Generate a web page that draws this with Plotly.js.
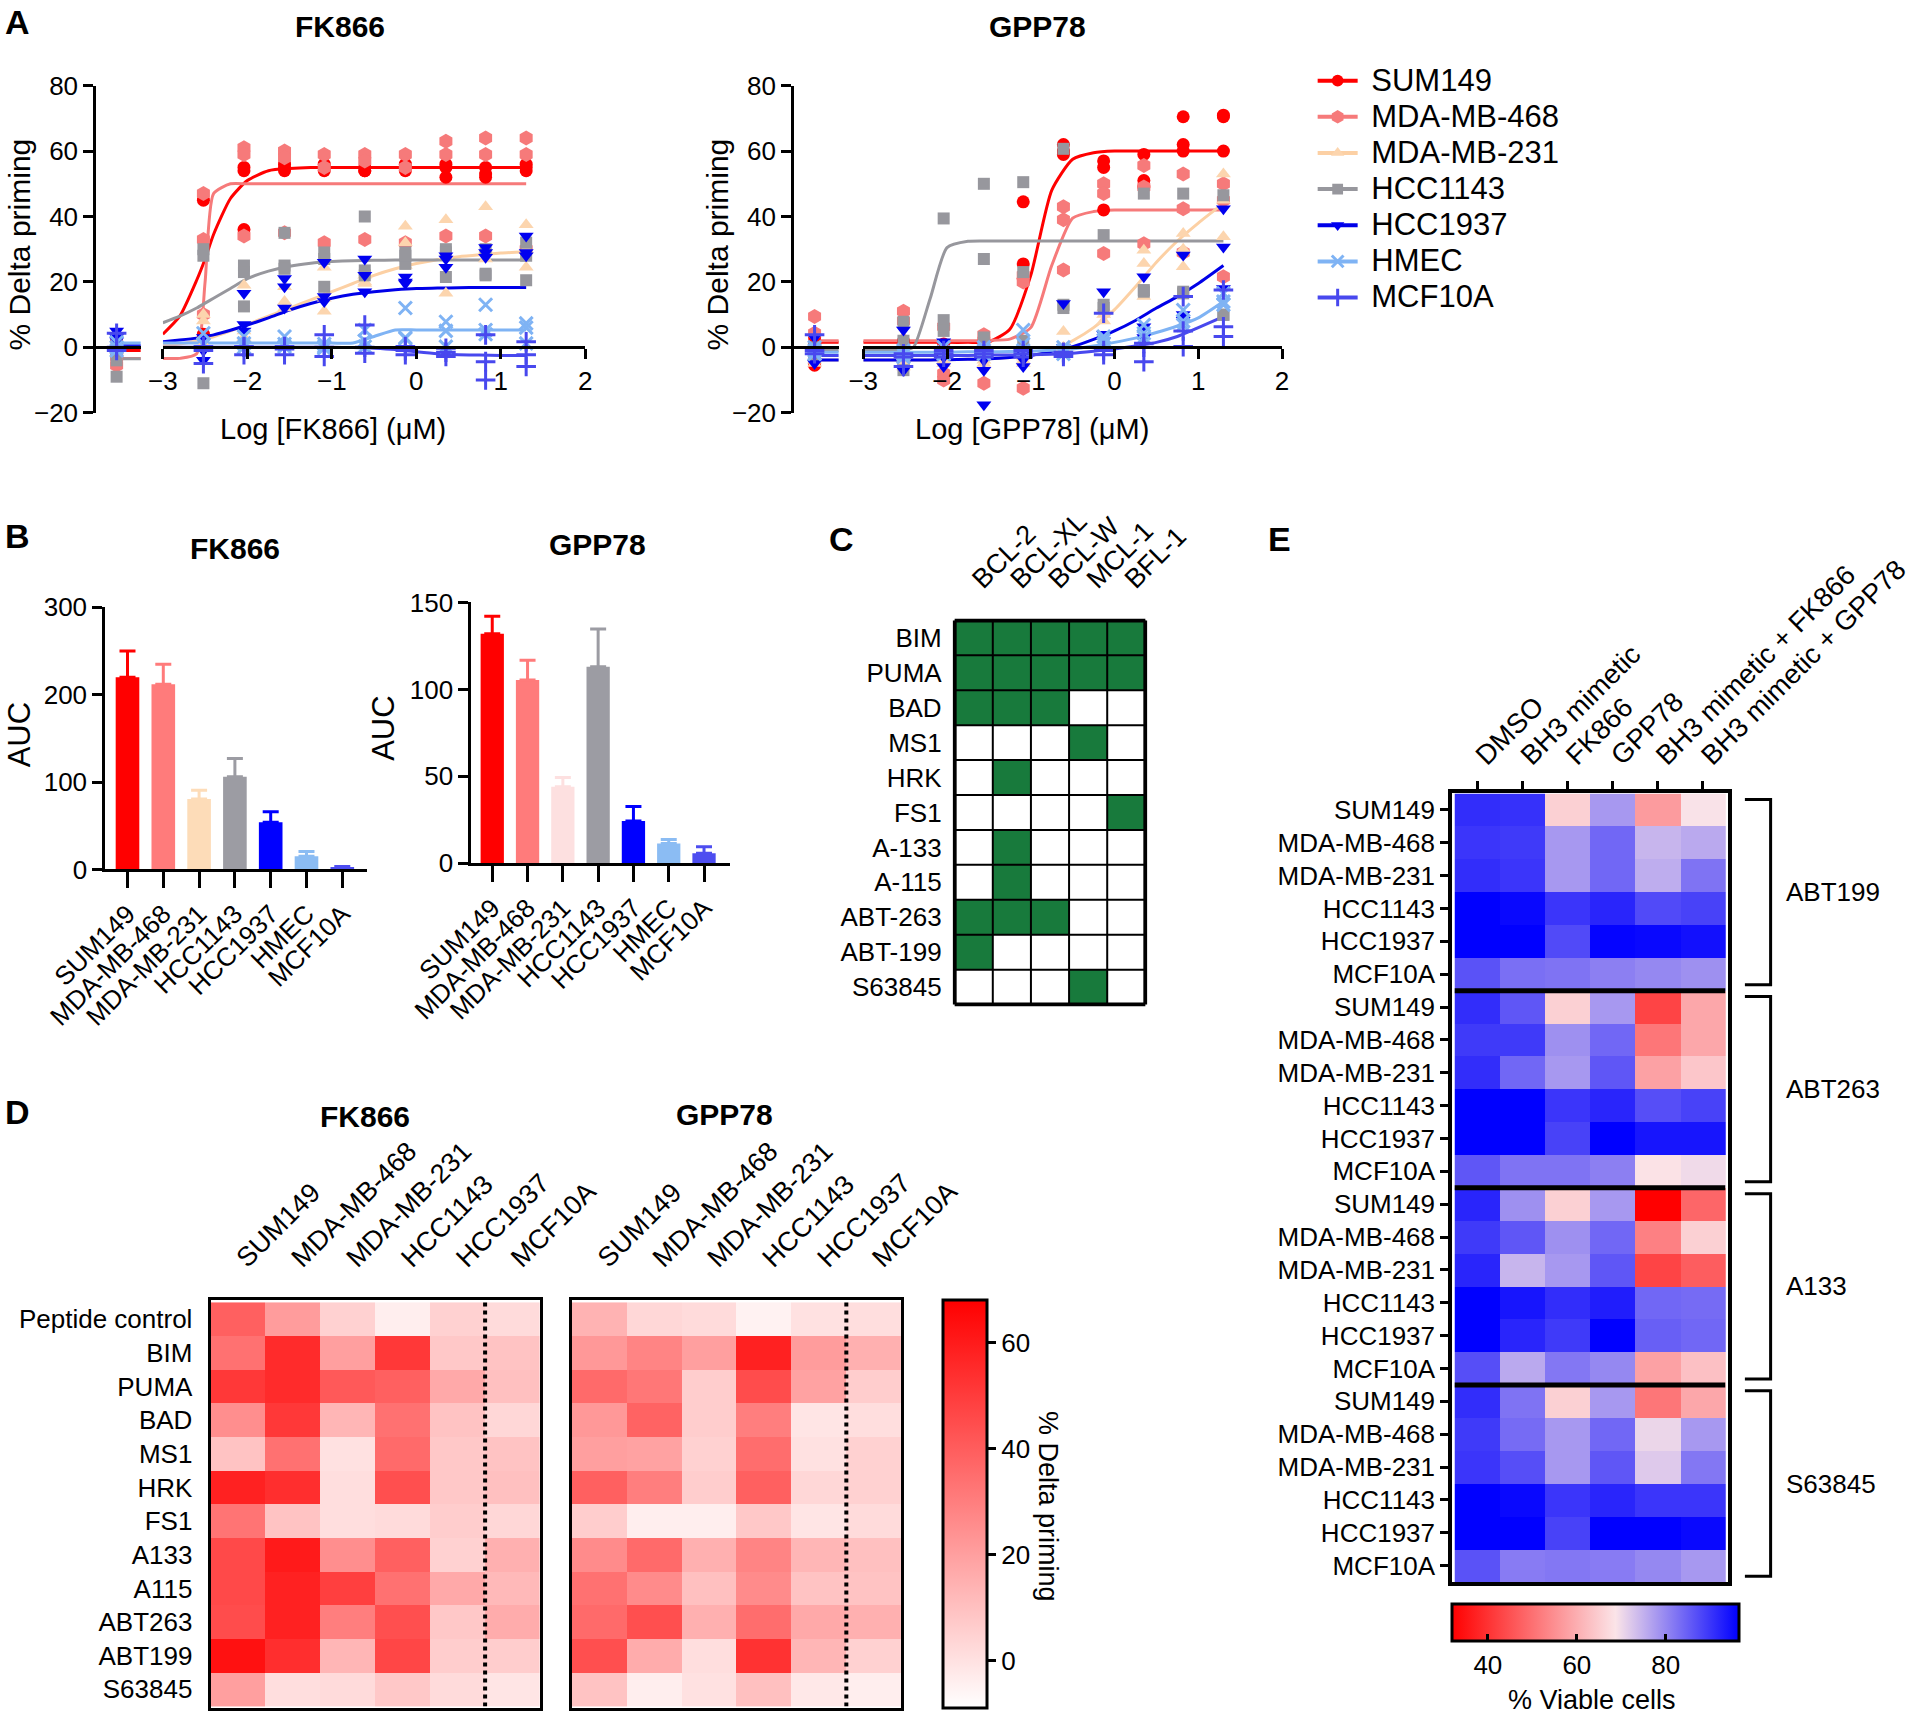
<!DOCTYPE html>
<html><head><meta charset="utf-8">
<script src="https://cdn.plot.ly/plotly-3.0.1.min.js"></script>
<style>html,body{margin:0;padding:0;background:#fff}#chart{width:1920px;height:1718px}</style>
</head><body><div id="chart"></div>
<script>
// ---------------- DATA ----------------
const cellLines = ['SUM149','MDA-MB-468','MDA-MB-231','HCC1143','HCC1937','HMEC','MCF10A'];
const logDose = [-2.52,-2.04,-1.56,-1.09,-0.61,-0.13,0.35,0.82,1.30];
const curveGrid = [-3,-2.8,-2.6,-2.5,-2.4,-2.2,-2,-1.75,-1.5,-1.25,-1,-0.75,-0.5,-0.25,0,0.25,0.5,0.75,1,1.3];

// FK866 % delta priming replicates (first row = vehicle, then one row per logDose)
const fk_SUM149 = [[2,-1,0],[45,4,3],[36,54,55],[55,54,56],[55,54,56],[54,54,55],[55,54,56],[56,52,55],[52,53,55],[56,54,55]];
const fk_MDA468 = [[-5.5,-2,-3],[47,33,10],[61,59,34],[60,58,35],[59,55,32],[59,57,33],[59,55,32],[63,59,34],[64,59,34],[64,59,30]];
const fk_MDA231 = [[0,1,-1],[8,10,1],[19,3,5],[18.5,12,14],[11,24.5,15],[19.5,22,20],[37,32,25],[39,16.5,28],[43,27,30],[37.5,24.5,30]];
const fk_HCC1143 = [[-9,-4,-1],[30,28,-11],[25,12.5,23],[35,25,24],[29,18.5,27],[40,23.5,22],[29,25.5,28],[30,21.5,29],[22.5,22,30],[32,20.5,28]];
const fk_HCC1937 = [[5,2,3],[-1,-4,3],[16.5,7,5],[21,18.5,12],[26,15.5,14],[27,22,17],[21.5,19.5,20],[28,24.5,27],[30.5,27.5,29],[34,28,29]];
const fk_HMEC = [[0,1.5,-1],[4.3,0.7,1],[1.2,3.3,0],[3.3,0.2,1],[0.2,-0.3,1],[5.3,0.2,2],[12,2.7,3],[7.8,0.2,5],[13,5.3,4],[7.3,1.2,6]];
const fk_MCF10A = [[4.3,-1,0],[0.2,-5,-1],[0.2,-2.3,0],[0.2,-2.3,-0.5],[3.8,-2.8,0],[6.8,-1.8,0],[0.2,-2.3,-1],[-0.3,-2.8,-1.5],[3.8,-4.4,-10],[1.7,-2.3,-5.9]];

// FK866 fitted curves read at curveGrid
const fkFit_SUM149 = [4,9.5,20.5,27,34.5,45.5,51,54,54.7,55,55,55,55,55,55,55,55,55,55,55];
const fkFit_MDA468 = [-3.4,-3.4,-2,20,47,50,50,50,50,50,50,50,50,50,50,50,50,50,50,50];
const fkFit_MDA231 = [0.5,1,2,2.5,3.2,5,7,9.5,12,14.5,17,19.5,22,24,25.6,26.8,27.7,28.3,28.8,29.2];
const fkFit_HCC1143 = [7.5,9.5,12,13.5,15,18,21,23.3,24.8,25.7,26.2,26.5,26.6,26.7,26.7,26.7,26.7,26.7,26.7,26.7];
const fkFit_HCC1937 = [1.7,2.2,2.8,3.3,3.8,5.2,6.8,9,11.4,13.4,15,16.2,17,17.6,18,18.1,18.2,18.3,18.3,18.3];
const fkFit_HMEC = [1.3,1.3,1.3,1.3,1.3,1.3,1.3,1.3,1.3,1.3,1.3,1.3,3.3,5.3,5.3,5.3,5.3,5.3,5.3,5.3];
const fkFit_MCF10A = [0,0,0,0,0,0,0,0,0,0,0,-0.1,-0.3,-0.7,-1.4,-2,-2.3,-2.4,-2.5,-2.5];
const fkVehicleFit = [-1,-3.4,0,-3.5,0.5,1.3,0];

// GPP78 % delta priming replicates
const gpp_SUM149 = [[-5.5,1,3],[1,-2,2],[-2,0,1],[-1,2,0],[44.5,25.5,21],[62,59,60],[57,55,42],[59,51,49],[70.5,62,60],[71,70.5,60]];
const gpp_MDA468 = [[9.4,4.3,-3],[11,8,-5],[6.3,-10,-8],[3.8,-11,2],[20,-12.5,22],[43,39,23.6],[50,47,28.7],[55.6,31.7,49],[53,42.4,29],[50,21.6,45]];
const gpp_MDA231 = [[-4,-3,-5],[-5,-6,-3],[-4,-3,-5],[-5,-4,-3],[-3,-4,-5],[4.8,-2,0],[10,12,8],[29.7,25.6,15.5],[34.8,24.6,30],[53,33.8,45]];
const gpp_HCC1143 = [[-3,-1,0],[7.8,-7,2],[39.4,8.3,5],[50,27,3],[50.5,23,2],[60.7,12,13],[34.3,13,12],[47,17.5,17],[47,16.5,17],[46.5,9.9,10]];
const gpp_HCC1937 = [[3,-5,-2],[5.3,-7,-3],[1.7,-5.9,-3],[-7,-17.6,-4],[-5.9,-3.8,-2],[13.4,-0.8,0],[17,4,2],[21.6,6.3,3],[28.2,8.3,10],[42.4,30.7,18]];
const gpp_HMEC = [[-1,-2,0],[-1,-2,-3],[-1.5,-2,0],[-1,0,-2],[5.3,1,-1],[-1,0,-2],[3.3,2.2,1],[6.8,4.3,3],[11.4,6.8,8],[16.5,13,14]];
const gpp_MCF10A = [[3.8,-1,-2],[-5.9,-2,-3],[-2,-3,-1],[-2,-3,-1],[-2,-1,-3],[-2.8,-1.5,-2],[10.4,-2.3,-1],[-4.4,1.2,0],[15.5,0.2,5],[17.5,6.3,3.3]];

const gppFit_SUM149 = [1.5,1.5,1.5,1.5,1.5,1.5,1.5,1.5,1.7,5.5,22,48,57.5,59.5,60,60,60,60,60,60];
const gppFit_MDA468 = [2,2,2,2,2,2,2,2,2.1,2.5,6,25,39.5,41.5,42,42,42,42,42,42];
const gppFit_MDA231 = [-3.9,-3.9,-3.9,-3.9,-3.9,-3.9,-3.8,-3.7,-3.5,-3.1,-2.5,-1,2,6,11.5,18.5,26,32.5,38,44];
const gppFit_HCC1143 = [-1,-1,-1,-0.8,0,15,30.5,32.4,32.5,32.5,32.5,32.5,32.5,32.5,32.5,32.5,32.5,32.5,32.5,32.5];
const gppFit_HCC1937 = [-3.9,-3.9,-3.9,-3.9,-3.9,-3.9,-3.8,-3.7,-3.5,-3.1,-2.5,-1.2,0.2,2.4,5,8.2,12,15.5,19.5,25];
const gppFit_HMEC = [-1.5,-1.5,-1.5,-1.5,-1.5,-1.5,-1.5,-1.4,-1.4,-1.3,-1.2,-0.9,-0.5,0.4,1.5,2.8,4.5,6.5,9,14];
const gppFit_MCF10A = [-2.5,-2.5,-2.5,-2.5,-2.5,-2.5,-2.5,-2.5,-2.4,-2.4,-2.3,-2.1,-1.8,-1.2,-0.5,0.4,1.5,3.3,6,9.4];
const gppVehicleFit = [1.5,2,-3.9,-1,-3.9,-1.5,-2.5];

// Panel B: AUC
const aucFK866 = [220,212,80.5,106,54,15,2.7];
const aucFK866Err = [30,23,10,21,12,5.5,0.5];
const aucGPP78 = [132,105.4,44,113,24.3,11.4,5.7];
const aucGPP78Err = [10,11.4,5.4,21.8,8.4,2.3,3.8];

// Panel C: binding profile
const bcl2Family = ['BCL-2','BCL-XL','BCL-W','MCL-1','BFL-1'];
const bh3Agents = ['BIM','PUMA','BAD','MS1','HRK','FS1','A-133','A-115','ABT-263','ABT-199','S63845'];
const bindingMatrix = [[1,1,1,1,1],[1,1,1,1,1],[1,1,1,0,0],[0,0,0,1,0],[0,1,0,0,0],[0,0,0,0,1],[0,1,0,0,0],[0,1,0,0,0],[1,1,1,0,0],[1,0,0,0,0],[0,0,0,1,0]];

// Panel D: % delta priming heatmaps
const dLines = ['SUM149','MDA-MB-468','MDA-MB-231','HCC1143','HCC1937','MCF10A'];
const dPeptides = ['Peptide control','BIM','PUMA','BAD','MS1','HRK','FS1','A133','A115','ABT263','ABT199','S63845'];
const dFK866 = [[39,21,5,-4,5,2],[34,55,20,51,7.5,9],[51,55,41,39,17,10],[25,51,13,34,9,3],[9,34,0,36,7.5,9],[58,54,1,44,7.5,10],[33,9,1,2,6,3],[46,60,25,39,5,15],[46,58,49,34,17,12],[45,58,30,44,7.5,16],[63,54,13,47,6,6],[20,1,2,7.5,2,-1]];
const dGPP78 = [[14,3,2,-5,0,1],[22,28,20,58,21,15],[36,32,6,45,19,6],[22,38,6,30,-1,1],[20,19,5,35,0,5],[39,30,6,39,3,5],[6,-4,-4,7.5,-1,2],[26,36,15,28,13,10],[34,26,10,26,9,9],[36,44,15,35,17,15],[44,16,1,53,13,5],[9,-4,0,10,-2,-4]];

// Panel E: % viable cells
const eTreatments = ['DMSO','BH3 mimetic','FK866','GPP78','BH3 mimetic + FK866','BH3 mimetic + GPP78'];
const eLines = ['SUM149','MDA-MB-468','MDA-MB-231','HCC1143','HCC1937','MCF10A'];
const eGroups = ['ABT199','ABT263','A133','S63845'];
const eABT199 = [[91,90.5,65.5,78,57,69],[90,89.5,78,84,74.5,76],[91,90,78,84,75.5,82.5],[96.5,95.5,90,92,87.5,88.5],[96.5,96.5,87.5,96,95.5,94.5],[86.5,83,82.5,81,80,79]];
const eABT263 = [[91,86,65.5,78,43,59],[89.5,89.5,79,84,51,59],[91,84,78,86,58,64],[96.5,96.5,90,92,87,88.5],[96.5,96.5,88.5,96.5,94,94],[86,82.5,82.5,81,68.5,70]];
const eA133 = [[92,79,65.5,78,32,48.5],[89.5,86,79,84,52.7,65.5],[92,74.5,78,86,43,47],[96.5,94,91,93,84,83.5],[96.5,92,89.5,96.5,85,84],[87,76,82,80,58,63]];
const eS63845 = [[91,82.5,65.5,78,51,59],[89.5,83.5,78,84,70.5,78],[90,87,78,86,72,82],[96.5,95.5,90,92,90,90],[96.5,96.5,88.5,96.5,96.5,95.5],[86.5,81.5,82,81.5,80,78]];

// ---------------- STYLES / LAYOUT HELPERS ----------------
const FONT = 'Arial, "Liberation Sans", Helvetica, sans-serif';
const W = 1568, H = 1403;             // reference design units
const px = x => x / W, py = y => 1 - y / H;
const S = 1920 / W;                    // design unit -> real px

const lineStyles = [
  {color:'#ff0000', lc:'#ff0000', symbol:'circle', size:13},
  {color:'#f67a7a', lc:'#f67a7a', symbol:'hexagon', size:15},
  {color:'#fcd5ae', lc:'#fcd0a4', symbol:'triangle-up', size:13},
  {color:'#97979d', lc:'#97979d', symbol:'square', size:12},
  {color:'#0000f0', lc:'#0000e8', symbol:'triangle-down', size:13},
  {color:'#7fb3f4', lc:'#7fb3f4', symbol:'x-thin', size:13, thin:true},
  {color:'#4848ee', lc:'#4848ee', symbol:'cross-thin', size:14, thin:true}
];
const barColorsFK = ['#ff0000','#ff7b7b','#fddcb8','#9c9ca3','#0000ff','#8bbcf3','#4d4df0'];
const barColorsGPP = ['#ff0000','#ff7b7b','#fde0e0','#9c9ca3','#0000ff','#8bbcf3','#4d4df0'];

function mk(st, scale){
  const s = (scale||1);
  return st.thin ? {symbol:st.symbol, size:st.size*s, color:st.color, line:{color:st.color, width:3}}
                 : {symbol:st.symbol, size:st.size*s, color:st.color, line:{width:0}};
}

const traces = [];
const shapes = [];
const annotations = [];

function dosePanel(reps, fits, vehFits, segAx, mainAx, yAx){
  cellLines.forEach((n,i)=>{
    const st = lineStyles[i];
    traces.push({type:'scatter', mode:'lines', x:[0.35,1], y:[vehFits[i],vehFits[i]], xaxis:segAx, yaxis:yAx,
      line:{color:st.lc, width:3}, showlegend:false, hoverinfo:'skip'});
    traces.push({type:'scatter', mode:'lines', x:curveGrid, y:fits[i], xaxis:mainAx, yaxis:yAx,
      line:{color:st.lc, width:3, shape:'spline', smoothing:0.6}, showlegend:false, hoverinfo:'skip'});
  });
  cellLines.forEach((n,i)=>{
    const st = lineStyles[i];
    const r = reps[i];
    traces.push({type:'scatter', mode:'markers', x:r[0].map(()=>0.48), y:r[0], xaxis:segAx, yaxis:yAx,
      marker:mk(st), showlegend:false, cliponaxis:false});
    const xs=[], ys=[];
    logDose.forEach((d,k)=>{ r[k+1].forEach(v=>{ xs.push(d); ys.push(v); }); });
    traces.push({type:'scatter', mode:'markers', x:xs, y:ys, xaxis:mainAx, yaxis:yAx,
      marker:mk(st), showlegend:false, cliponaxis:false});
  });
}

dosePanel([fk_SUM149,fk_MDA468,fk_MDA231,fk_HCC1143,fk_HCC1937,fk_HMEC,fk_MCF10A],
          [fkFit_SUM149,fkFit_MDA468,fkFit_MDA231,fkFit_HCC1143,fkFit_HCC1937,fkFit_HMEC,fkFit_MCF10A],
          fkVehicleFit, 'x', 'x2', 'y');
dosePanel([gpp_SUM149,gpp_MDA468,gpp_MDA231,gpp_HCC1143,gpp_HCC1937,gpp_HMEC,gpp_MCF10A],
          [gppFit_SUM149,gppFit_MDA468,gppFit_MDA231,gppFit_HCC1143,gppFit_HCC1937,gppFit_HMEC,gppFit_MCF10A],
          gppVehicleFit, 'x3', 'x4', 'y2');

// legend entries
cellLines.forEach((n,i)=>{
  const st = lineStyles[i];
  traces.push({type:'scatter', mode:'lines+markers', name:'<span style="font-size:31px">&nbsp;'+n+'</span>',
    x:[null], y:[null], xaxis:'x2', yaxis:'y',
    line:{color:st.lc, width:4}, marker:mk(st, 0.9), showlegend:true});
});

// Panel B bars
function barPanel(vals, errs, colors, xa, ya){
  cellLines.forEach((n,i)=>{
    traces.push({type:'bar', x:[n], y:[vals[i]], xaxis:xa, yaxis:ya, width:0.66,
      marker:{color:colors[i], line:{width:0}},
      error_y:{type:'data', symmetric:false, array:[errs[i]], arrayminus:[0], color:colors[i], thickness:3, width:8},
      showlegend:false, hoverinfo:'skip'});
  });
}
barPanel(aucFK866, aucFK866Err, barColorsFK, 'x5', 'y3');
barPanel(aucGPP78, aucGPP78Err, barColorsGPP, 'x6', 'y4');

// Panel C
traces.push({type:'heatmap', x:bcl2Family, y:bh3Agents, z:bindingMatrix, xaxis:'x7', yaxis:'y5',
  colorscale:[[0,'#ffffff'],[1,'#187a3c']], zmin:0, zmax:1, showscale:false, hoverinfo:'skip'});
for(let c=0;c<=bcl2Family.length;c++){
  const outer = (c===0||c===bcl2Family.length);
  shapes.push({type:'line', xref:'x7', yref:'y5', x0:c-0.5, x1:c-0.5, y0:-0.5, y1:bh3Agents.length-0.5,
    line:{color:'#000', width: outer?4:2}});
}
for(let r=0;r<=bh3Agents.length;r++){
  const outer = (r===0||r===bh3Agents.length);
  shapes.push({type:'line', xref:'x7', yref:'y5', y0:r-0.5, y1:r-0.5, x0:-0.5, x1:bcl2Family.length-0.5,
    line:{color:'#000', width: outer?4:2}});
}

// Panel D
const redScale = [[0,'#ffffff'],[1,'#ff0000']];
traces.push({type:'heatmap', x:dLines, y:dPeptides, z:dFK866, xaxis:'x8', yaxis:'y6',
  colorscale:redScale, zmin:-9, zmax:68, showscale:false, hoverinfo:'skip'});
traces.push({type:'heatmap', x:dLines, y:dPeptides, z:dGPP78, xaxis:'x9', yaxis:'y7',
  colorscale:redScale, zmin:-9, zmax:68, hoverinfo:'skip',
  colorbar:{x:px(770), xanchor:'left', y:py(1062), yanchor:'top', len:(1395-1062)/H, lenmode:'fraction',
    thickness:36*S, thicknessmode:'pixels', outlinewidth:3, outlinecolor:'#000', xpad:0, ypad:0,
    tickvals:[0,20,40,60], ticks:'outside', ticklen:8, tickwidth:3, tickcolor:'#000',
    tickfont:{size:26, color:'#000', family:FONT}}});
['x8','x9'].forEach((xa,k)=>{
  shapes.push({type:'line', xref:xa, yref:k?'y7':'y6', x0:4.5, x1:4.5, y0:-0.5, y1:dPeptides.length-0.5,
    line:{color:'#000', width:4, dash:'dot'}});
});

// Panel E
const eZ = [].concat(eABT199, eABT263, eA133, eS63845);
const eY = eZ.map((r,i)=>i);
const eTickText = eZ.map((r,i)=>eLines[i % eLines.length]);
traces.push({type:'heatmap', x:eTreatments, y:eY, z:eZ, xaxis:'x10', yaxis:'y8',
  colorscale:[[0,'#ff0000'],[0.57,'#fbe4e8'],[1,'#0000ff']], zmin:32, zmax:96.5, hoverinfo:'skip',
  colorbar:{orientation:'h', x:px(1186), xanchor:'left', y:py(1310), yanchor:'top', len:(1420-1186)/W, lenmode:'fraction',
    thickness:30*S, thicknessmode:'pixels', outlinewidth:3, outlinecolor:'#000', xpad:0, ypad:0,
    tickvals:[40,60,80], ticks:'inside', ticklen:8, tickwidth:3, tickcolor:'#000',
    tickfont:{size:26, color:'#000', family:FONT}}});
for(let g=1; g<eGroups.length; g++){
  shapes.push({type:'line', xref:'x10', yref:'y8', x0:-0.5, x1:eTreatments.length-0.5, y0:g*6-0.5, y1:g*6-0.5,
    line:{color:'#000', width:5}});
}
eGroups.forEach((gname,g)=>{
  const y0 = g*6-0.32, y1 = g*6+5.32;
  shapes.push({type:'path', xref:'paper', yref:'y8',
    path:`M ${px(1425)},${y0} L ${px(1446)},${y0} L ${px(1446)},${y1} L ${px(1425)},${y1}`,
    line:{color:'#000', width:3}});
  annotations.push({xref:'paper', yref:'y8', x:px(1457), y:g*6+2.5, xanchor:'left', yanchor:'middle',
    text:gname, showarrow:false, font:{size:26, color:'#000', family:FONT}});
});

// ---------------- AXES ----------------
const AX = {showgrid:false, zeroline:false, color:'#000', linecolor:'#000', tickcolor:'#000', fixedrange:true,
  tickfont:{size:26, color:'#000', family:FONT}};
const yDomA = [py(337), py(70)];
const zeroPos = yDomA[0] + (0-(-20))/100*(yDomA[1]-yDomA[0]);

const layout = {
  width:1920, height:1718, margin:{l:0,r:0,t:0,b:0}, paper_bgcolor:'#fff', plot_bgcolor:'rgba(0,0,0,0)',
  font:{family:FONT, color:'#000'}, barmode:'overlay', hovermode:false,
  showlegend:true,
  legend:{x:px(1072), y:py(47), xanchor:'left', yanchor:'top', font:{size:25.5, family:FONT, color:'#000'},
    bgcolor:'rgba(0,0,0,0)', tracegroupgap:0, itemwidth:40},
  // A FK866
  xaxis:Object.assign({}, AX, {domain:[px(77),px(115)], range:[0,1], anchor:'free', position:zeroPos,
    showline:true, linewidth:3, ticks:'', showticklabels:false}),
  xaxis2:Object.assign({}, AX, {domain:[px(133),px(478)], range:[-3,2], anchor:'free', position:zeroPos,
    showline:true, linewidth:3, ticks:'outside', ticklen:10, tickwidth:3, dtick:1, tick0:0}),
  yaxis:Object.assign({}, AX, {domain:yDomA, range:[-20,80], anchor:'free', position:px(77),
    showline:true, linewidth:3, ticks:'outside', ticklen:10, tickwidth:3, dtick:20}),
  // A GPP78
  xaxis3:Object.assign({}, AX, {domain:[px(647),px(685)], range:[0,1], anchor:'free', position:zeroPos,
    showline:true, linewidth:3, ticks:'', showticklabels:false}),
  xaxis4:Object.assign({}, AX, {domain:[px(705),px(1047)], range:[-3,2], anchor:'free', position:zeroPos,
    showline:true, linewidth:3, ticks:'outside', ticklen:10, tickwidth:3, dtick:1, tick0:0}),
  yaxis2:Object.assign({}, AX, {domain:yDomA, range:[-20,80], anchor:'free', position:px(647),
    showline:true, linewidth:3, ticks:'outside', ticklen:10, tickwidth:3, dtick:20}),
  // B
  xaxis5:Object.assign({}, AX, {domain:[px(86),px(300)], range:[-0.62,6.7], anchor:'y3', type:'category',
    showline:true, linewidth:3, ticks:'outside', ticklen:16, tickwidth:3, tickangle:-45}),
  yaxis3:Object.assign({}, AX, {domain:[py(710),py(496)], range:[0,300], anchor:'x5',
    showline:true, linewidth:3, ticks:'outside', ticklen:10, tickwidth:3, dtick:100}),
  xaxis6:Object.assign({}, AX, {domain:[px(385),px(596)], range:[-0.59,6.73], anchor:'y4', type:'category',
    showline:true, linewidth:3, ticks:'outside', ticklen:16, tickwidth:3, tickangle:-45}),
  yaxis4:Object.assign({}, AX, {domain:[py(705),py(492)], range:[0,150], anchor:'x6',
    showline:true, linewidth:3, ticks:'outside', ticklen:10, tickwidth:3, dtick:50}),
  // C
  xaxis7:Object.assign({}, AX, {domain:[px(778),px(937)], anchor:'y5', side:'top', ticks:'', tickangle:-45,
    showline:false, ticklabelstandoff:18, tickfont:{size:27, color:'#000', family:FONT}}),
  yaxis5:Object.assign({}, AX, {domain:[py(822),py(505)], anchor:'x7', autorange:'reversed', ticks:'',
    showline:false, ticklabelstandoff:10, tickfont:{size:26, color:'#000', family:FONT}}),
  // D
  xaxis8:Object.assign({}, AX, {domain:[px(172),px(441)], anchor:'y6', side:'top', ticks:'', tickangle:-45,
    showline:true, mirror:true, linewidth:3, ticklabelstandoff:14, tickfont:{size:27, color:'#000', family:FONT}}),
  yaxis6:Object.assign({}, AX, {domain:[py(1395),py(1062)], anchor:'x8', autorange:'reversed', ticks:'',
    showline:true, mirror:true, linewidth:3, ticklabelstandoff:10}),
  xaxis9:Object.assign({}, AX, {domain:[px(467),px(736)], anchor:'y7', side:'top', ticks:'', tickangle:-45,
    showline:true, mirror:true, linewidth:3, ticklabelstandoff:14, tickfont:{size:27, color:'#000', family:FONT}}),
  yaxis7:Object.assign({}, AX, {domain:[py(1395),py(1062)], anchor:'x9', autorange:'reversed', ticks:'',
    showline:true, mirror:true, linewidth:3, showticklabels:false}),
  // E
  xaxis10:Object.assign({}, AX, {domain:[px(1186),px(1411)], anchor:'y8', side:'top', ticks:'outside',
    ticklen:8, tickwidth:3, tickangle:-45, showline:true, mirror:true, linewidth:4,
    tickfont:{size:27.5, color:'#000', family:FONT}}),
  yaxis8:Object.assign({}, AX, {domain:[py(1292),py(648)], anchor:'x10', range:[23.5,-0.5],
    tickmode:'array', tickvals:eY, ticktext:eTickText, ticks:'outside', ticklen:8, tickwidth:3,
    showline:true, mirror:true, linewidth:4}),
  shapes:shapes,
  annotations:annotations
};

function txt(x, y, t, size, opts){
  annotations.push(Object.assign({xref:'paper', yref:'paper', x:px(x), y:py(y), text:t, showarrow:false,
    xanchor:'center', yanchor:'middle', font:{size:size, color:'#000', family:FONT}}, opts||{}));
}
// panel letters
txt(14,18,'<b>A</b>',34); txt(14,438,'<b>B</b>',34); txt(687,440,'<b>C</b>',34);
txt(14,908,'<b>D</b>',34); txt(1045,440,'<b>E</b>',34);
// panel titles
txt(278,22,'<b>FK866</b>',30); txt(847,22,'<b>GPP78</b>',30);
txt(192,448,'<b>FK866</b>',30); txt(488,445,'<b>GPP78</b>',30);
txt(298,912,'<b>FK866</b>',30); txt(592,910,'<b>GPP78</b>',30);
// axis titles
txt(16,200,'% Delta priming',30,{textangle:-90});
txt(586,200,'% Delta priming',30,{textangle:-90});
txt(272,350,'Log [FK866] (μM)',29);
txt(843,350,'Log [GPP78] (μM)',29);
txt(16,600,'AUC',31,{textangle:-90});
txt(313,595,'AUC',31,{textangle:-90});
txt(856,1230,'% Delta priming',27,{textangle:90});
txt(1300,1388,'% Viable cells',27);

Plotly.newPlot('chart', traces, layout, {displayModeBar:false, staticPlot:true});
</script></body></html>
